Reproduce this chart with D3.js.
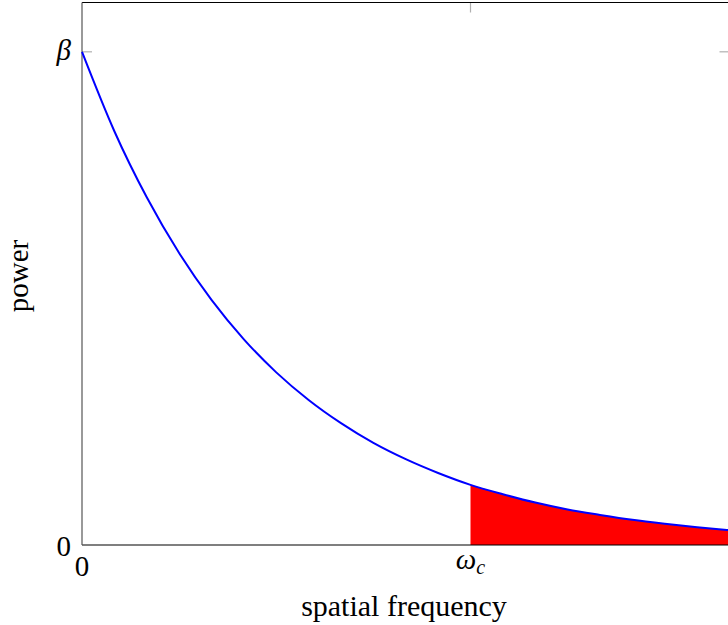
<!DOCTYPE html>
<html>
<head>
<meta charset="utf-8">
<script src="https://cdn.jsdelivr.net/npm/d3@7"></script>
<style>
  html, body { margin: 0; padding: 0; background: #fff; }
  svg { display: block; }
  text { font-family: "Liberation Serif", "Times New Roman", serif; fill: #000; }
</style>
</head>
<body>
<svg id="chart" width="728" height="625"></svg>
<script>
// Power spectrum: frequency samples and power (in units of beta)
const freq  = [0, 0.25, 0.5, 0.75, 1.0, 1.25, 1.5, 1.75, 2.0, 2.25, 2.5, 2.75,
               3.0, 3.25, 3.5, 3.75, 4.0, 4.25, 4.5, 4.75, 5.0];
const power = [1.000, 0.839, 0.705, 0.592, 0.497, 0.417, 0.350, 0.294, 0.247, 0.207,
               0.174, 0.146, 0.122, 0.103, 0.086, 0.072, 0.061, 0.051, 0.043, 0.036, 0.030];

const cutoff = 3.0;            // omega_c
const xDomain = [0, 5];
const yDomain = [0, 1.1];
const xTicks = [{ v: 0, label: "0" }, { v: cutoff, label: "ωc" }];
const yTicks = [{ v: 0, label: "0" }, { v: 1, label: "β" }];

const svg = d3.select("#chart");
const mLeft = 82, mRight = 729.5, mTop = 2.5, mBottom = 545;

const x = d3.scaleLinear().domain(xDomain).range([mLeft, mRight]);
const y = d3.scaleLinear().domain(yDomain).range([mBottom, mTop]);

const pts = freq.map((f, i) => ({ f, p: power[i] }));

// shaded region above the cutoff
const area = d3.area()
  .x(d => x(d.f)).y0(y(0)).y1(d => y(d.p))
  .curve(d3.curveMonotoneX);
svg.append("path")
  .datum(pts.filter(d => d.f >= cutoff))
  .attr("d", area)
  .attr("fill", "#ff0000");

// tick marks (inward, grey)
const tickLen = 10;
xTicks.forEach(t => {
  if (t.v === 0) return;
  svg.append("line").attr("x1", x(t.v)).attr("x2", x(t.v))
    .attr("y1", mTop).attr("y2", mTop + tickLen)
    .attr("stroke", "#b0b0b0").attr("stroke-width", 1.2);
});
yTicks.forEach(t => {
  if (t.v === 0) return;
  svg.append("line").attr("x1", mLeft).attr("x2", mLeft + tickLen)
    .attr("y1", y(t.v)).attr("y2", y(t.v))
    .attr("stroke", "#b0b0b0").attr("stroke-width", 1.2);
  svg.append("line").attr("x1", mRight - tickLen).attr("x2", mRight)
    .attr("y1", y(t.v)).attr("y2", y(t.v))
    .attr("stroke", "#b0b0b0").attr("stroke-width", 1.2);
});

// frame
svg.append("line").attr("x1", mLeft).attr("x2", mRight).attr("y1", mTop).attr("y2", mTop)
  .attr("stroke", "#000").attr("stroke-width", 1.2);
svg.append("line").attr("x1", mLeft).attr("x2", mRight).attr("y1", mBottom).attr("y2", mBottom)
  .attr("stroke", "#000").attr("stroke-width", 1.2);
svg.append("line").attr("x1", mLeft).attr("x2", mLeft).attr("y1", mTop).attr("y2", mBottom)
  .attr("stroke", "#555").attr("stroke-width", 1.2);
svg.append("line").attr("x1", mRight).attr("x2", mRight).attr("y1", mTop).attr("y2", mBottom)
  .attr("stroke", "#000").attr("stroke-width", 1.2);

// curve
const line = d3.line().x(d => x(d.f)).y(d => y(d.p)).curve(d3.curveMonotoneX);
svg.append("path").datum(pts).attr("d", line)
  .attr("fill", "none").attr("stroke", "#0000ff").attr("stroke-width", 2);

// tick labels
xTicks.forEach(t => {
  const g = svg.append("text")
    .attr("x", x(t.v)).attr("y", 576)
    .attr("text-anchor", "middle").attr("font-size", 29);
  if (t.label === "ωc") {
    g.attr("y", 569);
    g.append("tspan").attr("font-style", "italic").text("ω");
    g.append("tspan").attr("font-style", "italic").attr("font-size", 20)
      .attr("dy", 5).text("c");
  } else {
    g.text(t.label);
  }
});
yTicks.forEach(t => {
  const tx = svg.append("text")
    .attr("x", 71).attr("y", y(t.v) + 11)
    .attr("text-anchor", "end").attr("font-size", 29)
    .text(t.label);
  if (t.label === "β") tx.attr("font-style", "italic").attr("y", y(t.v) + 8);
});

// axis titles
svg.append("text").attr("x", 404).attr("y", 616)
  .attr("text-anchor", "middle").attr("font-size", 30)
  .text("spatial frequency");
svg.append("text")
  .attr("transform", "translate(28,276) rotate(-90)")
  .attr("text-anchor", "middle").attr("font-size", 29)
  .text("power");
</script>
</body>
</html>
